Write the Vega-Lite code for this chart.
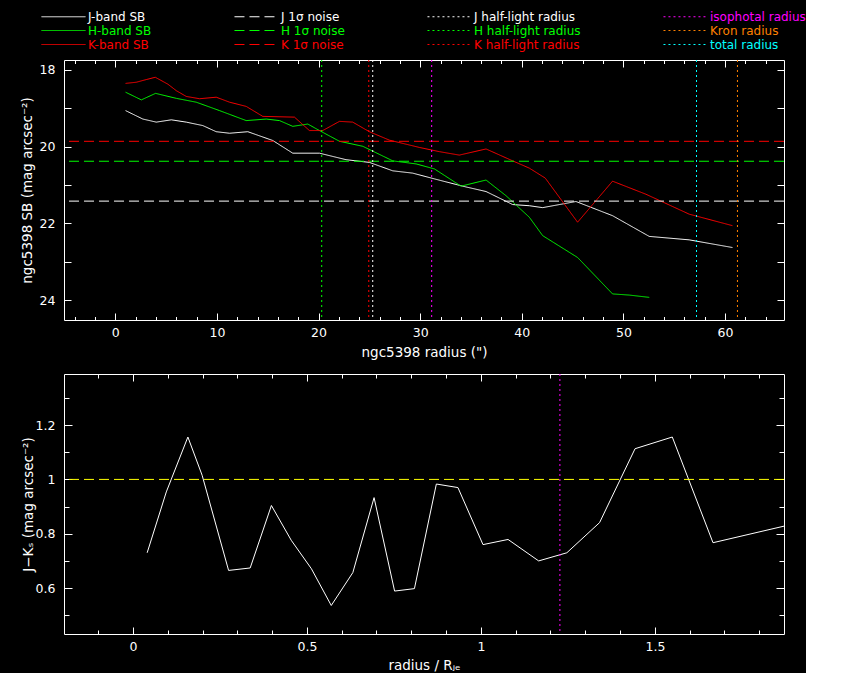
{
  "$schema": "https://vega.github.io/schema/vega-lite/v6.json",
  "background": "black",
  "padding": {"left": 19, "top": 10, "right": 0, "bottom": 0},
  "datasets": {
    "sb": [
      {"series": "J-band SB", "r": 1.01, "sb": 19.06}, {"series": "J-band SB", "r": 2.71, "sb": 19.28},
      {"series": "J-band SB", "r": 4.03, "sb": 19.36}, {"series": "J-band SB", "r": 5.51, "sb": 19.30},
      {"series": "J-band SB", "r": 6.98, "sb": 19.36}, {"series": "J-band SB", "r": 8.61, "sb": 19.45},
      {"series": "J-band SB", "r": 9.93, "sb": 19.61}, {"series": "J-band SB", "r": 11.24, "sb": 19.65},
      {"series": "J-band SB", "r": 13.04, "sb": 19.61}, {"series": "J-band SB", "r": 15.5, "sb": 19.84},
      {"series": "J-band SB", "r": 17.46, "sb": 20.17}, {"series": "J-band SB", "r": 20.09, "sb": 20.17},
      {"series": "J-band SB", "r": 22.71, "sb": 20.34}, {"series": "J-band SB", "r": 25.0, "sb": 20.41},
      {"series": "J-band SB", "r": 27.3, "sb": 20.63}, {"series": "J-band SB", "r": 29.26, "sb": 20.69},
      {"series": "J-band SB", "r": 31.4, "sb": 20.84}, {"series": "J-band SB", "r": 34.18, "sb": 21.03},
      {"series": "J-band SB", "r": 36.48, "sb": 21.17}, {"series": "J-band SB", "r": 39.1, "sb": 21.51},
      {"series": "J-band SB", "r": 40.74, "sb": 21.54}, {"series": "J-band SB", "r": 42.05, "sb": 21.59},
      {"series": "J-band SB", "r": 45.33, "sb": 21.43}, {"series": "J-band SB", "r": 48.93, "sb": 21.80},
      {"series": "J-band SB", "r": 52.54, "sb": 22.34}, {"series": "J-band SB", "r": 56.47, "sb": 22.43},
      {"series": "J-band SB", "r": 60.73, "sb": 22.63},
      {"series": "H-band SB", "r": 1.01, "sb": 18.58}, {"series": "H-band SB", "r": 2.56, "sb": 18.78},
      {"series": "H-band SB", "r": 3.96, "sb": 18.61}, {"series": "H-band SB", "r": 6.0, "sb": 18.74},
      {"series": "H-band SB", "r": 7.96, "sb": 18.84}, {"series": "H-band SB", "r": 10.26, "sb": 19.06},
      {"series": "H-band SB", "r": 12.88, "sb": 19.32}, {"series": "H-band SB", "r": 14.85, "sb": 19.28},
      {"series": "H-band SB", "r": 16.16, "sb": 19.32}, {"series": "H-band SB", "r": 17.46, "sb": 19.47},
      {"series": "H-band SB", "r": 18.94, "sb": 19.41}, {"series": "H-band SB", "r": 20.09, "sb": 19.58},
      {"series": "H-band SB", "r": 22.06, "sb": 19.86}, {"series": "H-band SB", "r": 24.35, "sb": 19.99},
      {"series": "H-band SB", "r": 27.3, "sb": 20.37}, {"series": "H-band SB", "r": 29.6, "sb": 20.45},
      {"series": "H-band SB", "r": 31.4, "sb": 20.58}, {"series": "H-band SB", "r": 34.02, "sb": 21.03},
      {"series": "H-band SB", "r": 36.48, "sb": 20.87}, {"series": "H-band SB", "r": 38.45, "sb": 21.28},
      {"series": "H-band SB", "r": 40.74, "sb": 21.84}, {"series": "H-band SB", "r": 42.05, "sb": 22.32},
      {"series": "H-band SB", "r": 45.49, "sb": 22.89}, {"series": "H-band SB", "r": 48.93, "sb": 23.84},
      {"series": "H-band SB", "r": 50.57, "sb": 23.87}, {"series": "H-band SB", "r": 52.54, "sb": 23.93},
      {"series": "K-band SB", "r": 1.01, "sb": 18.35}, {"series": "K-band SB", "r": 2.06, "sb": 18.32},
      {"series": "K-band SB", "r": 3.05, "sb": 18.25}, {"series": "K-band SB", "r": 3.93, "sb": 18.19},
      {"series": "K-band SB", "r": 5.17, "sb": 18.37}, {"series": "K-band SB", "r": 6.0, "sb": 18.54},
      {"series": "K-band SB", "r": 6.98, "sb": 18.69}, {"series": "K-band SB", "r": 8.29, "sb": 18.75},
      {"series": "K-band SB", "r": 9.93, "sb": 18.71}, {"series": "K-band SB", "r": 11.24, "sb": 18.84},
      {"series": "K-band SB", "r": 12.88, "sb": 18.95}, {"series": "K-band SB", "r": 14.51, "sb": 19.21},
      {"series": "K-band SB", "r": 17.63, "sb": 19.23}, {"series": "K-band SB", "r": 19.1, "sb": 19.58},
      {"series": "K-band SB", "r": 20.41, "sb": 19.58}, {"series": "K-band SB", "r": 22.06, "sb": 19.34},
      {"series": "K-band SB", "r": 23.36, "sb": 19.36}, {"series": "K-band SB", "r": 25.0, "sb": 19.61},
      {"series": "K-band SB", "r": 26.97, "sb": 19.83}, {"series": "K-band SB", "r": 29.92, "sb": 20.02},
      {"series": "K-band SB", "r": 31.89, "sb": 20.13}, {"series": "K-band SB", "r": 33.85, "sb": 20.22},
      {"series": "K-band SB", "r": 36.48, "sb": 20.06}, {"series": "K-band SB", "r": 39.1, "sb": 20.37},
      {"series": "K-band SB", "r": 40.74, "sb": 20.56}, {"series": "K-band SB", "r": 42.31, "sb": 20.82},
      {"series": "K-band SB", "r": 45.49, "sb": 21.97}, {"series": "K-band SB", "r": 48.93, "sb": 20.90},
      {"series": "K-band SB", "r": 52.21, "sb": 21.24}, {"series": "K-band SB", "r": 56.47, "sb": 21.76},
      {"series": "K-band SB", "r": 60.73, "sb": 22.06}
    ],
    "noise": [
      {"series": "J 1σ noise", "sb": 21.42},
      {"series": "H 1σ noise", "sb": 20.38},
      {"series": "K 1σ noise", "sb": 19.86}
    ],
    "radii": [
      {"series": "J half-light radius", "r": 25.33},
      {"series": "H half-light radius", "r": 20.31},
      {"series": "K half-light radius", "r": 24.94},
      {"series": "isophotal radius", "r": 31.13},
      {"series": "Kron radius", "r": 61.22},
      {"series": "total radius", "r": 57.19}
    ],
    "colour": [
      {"x": 0.041, "jk": 0.730}, {"x": 0.096, "jk": 0.954}, {"x": 0.158, "jk": 1.156},
      {"x": 0.199, "jk": 1.015}, {"x": 0.275, "jk": 0.665}, {"x": 0.337, "jk": 0.674},
      {"x": 0.398, "jk": 0.904}, {"x": 0.455, "jk": 0.776}, {"x": 0.513, "jk": 0.671},
      {"x": 0.570, "jk": 0.536}, {"x": 0.632, "jk": 0.657}, {"x": 0.693, "jk": 0.933},
      {"x": 0.752, "jk": 0.589}, {"x": 0.809, "jk": 0.598}, {"x": 0.872, "jk": 0.983},
      {"x": 0.934, "jk": 0.970}, {"x": 1.006, "jk": 0.760}, {"x": 1.078, "jk": 0.779},
      {"x": 1.166, "jk": 0.700}, {"x": 1.247, "jk": 0.730}, {"x": 1.341, "jk": 0.841},
      {"x": 1.443, "jk": 1.113}, {"x": 1.550, "jk": 1.156}, {"x": 1.667, "jk": 0.767},
      {"x": 1.871, "jk": 0.828}
    ],
    "colourref": [{"level": 1.0}],
    "colourradius": [{"x": 1.227}]
  },
  "vconcat": [
    {
      "width": 720,
      "height": 260,
      "layer": [
        {
          "data": {"name": "sb"},
          "mark": {"type": "line", "strokeWidth": 1, "clip": true},
          "encoding": {
            "x": {"field": "r", "type": "quantitative", "scale": {"domain": [-5.05, 65.8], "nice": false, "zero": false},
              "axis": {"orient": "bottom", "values": [0, 10, 20, 30, 40, 50, 60], "offset": -7, "tickSize": 7, "labelPadding": 6, "title": "ngc5398 radius (\")", "titlePadding": 7}},
            "y": {"field": "sb", "type": "quantitative", "scale": {"domain": [17.74, 24.52], "nice": false, "zero": false, "reverse": true},
              "axis": {"orient": "left", "values": [18, 19, 20, 21, 22, 23, 24], "labelExpr": "datum.value % 2 == 0 ? datum.label : ''", "offset": -7, "tickSize": 7, "labelPadding": 9, "minExtent": 35, "maxExtent": 35, "title": "ngc5398 SB (mag arcsec⁻²)", "titlePadding": 2}},
            "color": {"field": "series", "type": "nominal",
              "scale": {
                "domain": ["J-band SB", "J 1σ noise", "J half-light radius", "isophotal radius", "H-band SB", "H 1σ noise", "H half-light radius", "Kron radius", "K-band SB", "K 1σ noise", "K half-light radius", "total radius"],
                "range": ["#ffffff", "#ffffff", "#ffffff", "#ff00ff", "#00ff00", "#00ff00", "#00ff00", "#ff8000", "#ff0000", "#ff0000", "#ff0000", "#00ffff"]
              },
              "legend": {"title": null, "orient": "none", "legendX": -7, "legendY": -50, "columns": 4, "direction": "horizontal", "symbolType": "M-3.67,0H3.67", "symbolSize": 144, "symbolStrokeWidth": 1, "columnPadding": 80, "rowPadding": 1,
                "labelFont": "DejaVu Sans", "labelFontSize": 12, "labelOffset": 18, "labelColor": "white",
                "encode": {"labels": {"update": {"fill": {"signal": "datum.value == 'isophotal radius' ? '#ff00ff' : datum.value == 'Kron radius' ? '#ff8000' : datum.value == 'total radius' ? '#00ffff' : indexof(datum.value, 'H') == 0 ? '#00ff00' : indexof(datum.value, 'K') == 0 ? '#ff0000' : '#ffffff'"}}}}}},
            "strokeDash": {"field": "series", "type": "nominal",
              "scale": {
                "domain": ["J-band SB", "J 1σ noise", "J half-light radius", "isophotal radius", "H-band SB", "H 1σ noise", "H half-light radius", "Kron radius", "K-band SB", "K 1σ noise", "K half-light radius", "total radius"],
                "range": [[1, 0], [10, 5], [2, 3], [2, 3], [1, 0], [10, 5], [2, 3], [2, 3], [1, 0], [10, 5], [2, 3], [2, 3]]
              },
              "legend": {"title": null}}
          }
        },
        {
          "data": {"name": "noise"},
          "mark": {"type": "rule", "strokeWidth": 1},
          "encoding": {
            "y": {"field": "sb", "type": "quantitative",
              "axis": {"orient": "right", "values": [18, 19, 20, 21, 22, 23, 24], "offset": -7, "tickSize": 7, "labels": false, "title": null}},
            "color": {"field": "series", "type": "nominal"},
            "strokeDash": {"field": "series", "type": "nominal"}
          }
        },
        {
          "data": {"name": "radii"},
          "mark": {"type": "rule", "strokeWidth": 1},
          "encoding": {
            "x": {"field": "r", "type": "quantitative",
              "axis": {"orient": "top", "values": [0, 10, 20, 30, 40, 50, 60], "offset": -7, "tickSize": 7, "labels": false, "title": null}},
            "color": {"field": "series", "type": "nominal"},
            "strokeDash": {"field": "series", "type": "nominal"}
          }
        },
        {
          "data": {"name": "radii"},
          "mark": {"type": "point", "opacity": 0},
          "encoding": {
            "x": {"field": "r", "type": "quantitative",
              "axis": {"orient": "bottom", "values": [-4, -2, 2, 4, 6, 8, 12, 14, 16, 18, 22, 24, 26, 28, 32, 34, 36, 38, 42, 44, 46, 48, 52, 54, 56, 58, 62, 64], "offset": -3.5, "tickSize": 3.5, "labels": false, "title": null}},
            "y": {"datum": 21, "type": "quantitative", "axis": null}
          }
        },
        {
          "data": {"name": "radii"},
          "mark": {"type": "point", "opacity": 0},
          "encoding": {
            "x": {"field": "r", "type": "quantitative",
              "axis": {"orient": "top", "values": [-4, -2, 2, 4, 6, 8, 12, 14, 16, 18, 22, 24, 26, 28, 32, 34, 36, 38, 42, 44, 46, 48, 52, 54, 56, 58, 62, 64], "offset": -3.5, "tickSize": 3.5, "labels": false, "title": null}},
            "y": {"datum": 21, "type": "quantitative", "axis": null}
          }
        }
      ],
      "resolve": {"axis": {"x": "independent", "y": "independent"}}
    },
    {
      "width": 720,
      "height": 260,
      "layer": [
        {
          "data": {"name": "colour"},
          "mark": {"type": "line", "color": "white", "strokeWidth": 1, "clip": true},
          "encoding": {
            "x": {"field": "x", "type": "quantitative", "scale": {"domain": [-0.198, 1.871], "nice": false, "zero": false},
              "axis": {"orient": "bottom", "values": [0, 0.5, 1, 1.5], "format": "~g", "offset": -7, "tickSize": 7, "labelPadding": 6, "title": "radius / Rⱼₑ", "titlePadding": 6}},
            "y": {"field": "jk", "type": "quantitative", "scale": {"domain": [0.431, 1.388], "nice": false, "zero": false},
              "axis": {"orient": "left", "values": [0.6, 0.8, 1.0, 1.2], "format": "~g", "offset": -8, "tickSize": 8, "labelPadding": 9, "minExtent": 35, "maxExtent": 35, "title": "J−Kₛ (mag arcsec⁻²)", "titlePadding": 2}}
          }
        },
        {
          "data": {"name": "colourref"},
          "mark": {"type": "rule", "color": "#ffff00", "stroke": "#ffff00", "strokeWidth": 1, "strokeDash": [10, 5]},
          "encoding": {
            "y": {"field": "level", "type": "quantitative",
              "axis": {"orient": "right", "values": [0.6, 0.8, 1.0, 1.2], "offset": -8, "tickSize": 8, "labels": false, "title": null}}
          }
        },
        {
          "data": {"name": "colourradius"},
          "mark": {"type": "rule", "color": "#ff00ff", "stroke": "#ff00ff", "strokeWidth": 1, "strokeDash": [2, 3]},
          "encoding": {
            "x": {"field": "x", "type": "quantitative",
              "axis": {"orient": "top", "values": [0, 0.5, 1, 1.5], "offset": -7, "tickSize": 7, "labels": false, "title": null}}
          }
        },
        {
          "data": {"name": "colourradius"},
          "mark": {"type": "point", "opacity": 0},
          "encoding": {
            "x": {"field": "x", "type": "quantitative",
              "axis": {"orient": "bottom", "values": [-0.1, 0.1, 0.2, 0.3, 0.4, 0.6, 0.7, 0.8, 0.9, 1.1, 1.2, 1.3, 1.4, 1.6, 1.7, 1.8], "offset": -4, "tickSize": 4, "labels": false, "title": null}},
            "y": {"datum": 1.0, "type": "quantitative",
              "axis": {"orient": "left", "values": [0.5, 0.7, 0.9, 1.1, 1.3], "offset": -5, "tickSize": 5, "labels": false, "title": null}}
          }
        },
        {
          "data": {"name": "colourradius"},
          "mark": {"type": "point", "opacity": 0},
          "encoding": {
            "x": {"field": "x", "type": "quantitative",
              "axis": {"orient": "top", "values": [-0.1, 0.1, 0.2, 0.3, 0.4, 0.6, 0.7, 0.8, 0.9, 1.1, 1.2, 1.3, 1.4, 1.6, 1.7, 1.8], "offset": -4, "tickSize": 4, "labels": false, "title": null}},
            "y": {"datum": 1.0, "type": "quantitative",
              "axis": {"orient": "right", "values": [0.5, 0.7, 0.9, 1.1, 1.3], "offset": -5, "tickSize": 5, "labels": false, "title": null}}
          }
        }
      ],
      "resolve": {"axis": {"x": "independent", "y": "independent"}}
    }
  ],
  "spacing": 13,
  "config": {
    "view": {"stroke": "white", "strokeWidth": 1, "fill": "black"},
    "axis": {
      "domain": false, "grid": false, "tickColor": "white", "tickWidth": 1,
      "labelColor": "white", "titleColor": "white",
      "labelFont": "DejaVu Sans", "titleFont": "DejaVu Sans",
      "labelFontSize": 12.5, "titleFontSize": 13.5, "titleFontWeight": "normal"
    }
  }
}
